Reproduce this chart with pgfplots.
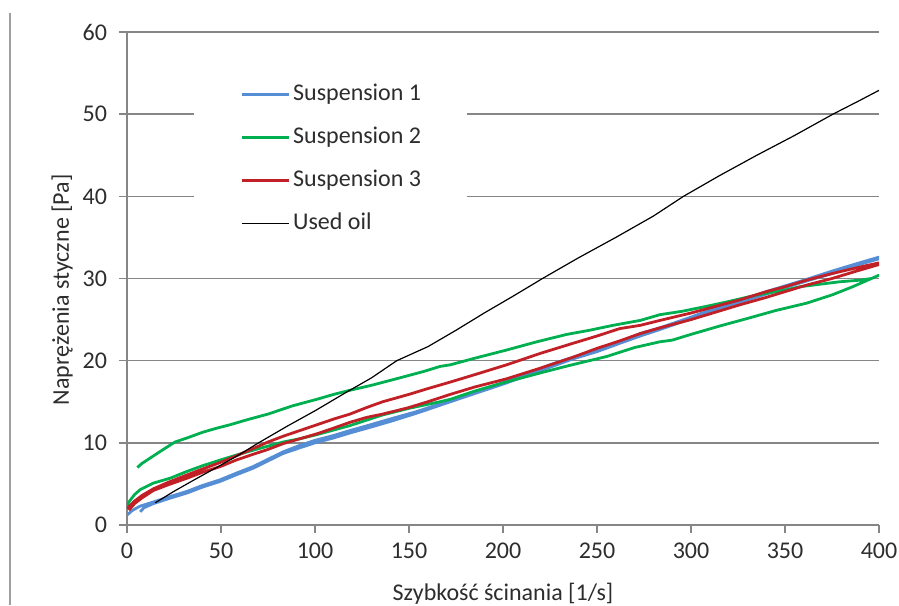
\documentclass[border=0pt]{standalone}
\usepackage{fontspec}
\setmainfont{Carlito}
\usepackage{pgfplots}
\pgfplotsset{compat=1.18}
\definecolor{sone}{RGB}{85,142,213}
\definecolor{stwo}{RGB}{0,176,80}
\definecolor{sthree}{RGB}{192,32,38}
\definecolor{gridc}{RGB}{134,134,134}
\definecolor{txt}{RGB}{45,45,45}
\begin{document}
\begin{tikzpicture}
\useasboundingbox (0pt,0pt) rectangle (449.5pt,-302.5pt);
\draw[color=gray!75, line width=1pt] (5pt,-6.5pt) -- (5pt,-302.5pt);
\begin{axis}[
  scale only axis, width=376pt, height=246.5pt,
  at={(63.5pt,-262.5pt)}, anchor=south west,
  xmin=0, xmax=400, ymin=0, ymax=60,
  xtick={0,50,...,400}, ytick={0,10,...,60},
  axis lines*=left,
  axis line style={gridc, line width=0.7pt},
  tick style={gridc, line width=0.7pt},
  tick align=outside,
  major tick length=4pt,
  ymajorgrids,
  grid style={gridc, line width=0.7pt},
  /pgf/number format/assume math mode=true,
  tick label style={font=\fontsize{12}{14}\selectfont, text=txt},
  yticklabel style={xshift=-2.5pt},
  xticklabel style={yshift=-1.5pt},
  label style={font=\fontsize{12}{14}\selectfont, text=txt},
  xlabel={Szybkość ścinania [1/s]},
  ylabel={Naprężenia styczne [Pa]},
  xlabel style={at={(axis description cs:0.5,-0.14)}, anchor=center},
  ylabel style={at={(axis description cs:-0.0864,0.477)}, anchor=center},
  legend style={at={(axis description cs:0.0891,0.939)}, anchor=north west,
    draw=none, fill=white, inner xsep=23pt, inner ysep=10pt,
    font=\fontsize{12}{14}\selectfont, text=txt,
    nodes={inner sep=0pt, text height=9pt, text depth=3pt},
    row sep=9.5pt, column sep=1.5pt},
  legend cell align=left,
  legend image code/.code={\draw[#1] (0pt,0pt) -- (23.5pt,0pt);},
]
\addplot[sone, line width=1.4pt, line join=round] coordinates {
(0,1.2)(3,1.8)(7,2.3)(14,2.8)(22,3.4)(32,4.1)(40,4.8)(49.5,5.5)(58,6.3)(67,7.1)(75,8.0)(83,8.9)(92,9.7)(100,10.3)(110,10.9)(118.6,11.5)(128,12.1)(140,12.9)(154,13.8)(166,14.7)(172,15.2)(185,16.2)(202,17.5)(215,18.6)(225,19.5)(237,20.4)(250,21.3)(262,22.3)(273,23.3)(283.5,24.0)(300,25.3)(313,26.4)(326,27.3)(340,28.4)(350,29.1)(361.5,29.9)(375,30.9)(388,31.8)(400,32.6)
(400,32.4)(388,31.6)(375,30.6)(361.5,29.7)(350,28.9)(340,28.1)(326,27.1)(313,26.2)(300,25.1)(283.5,23.8)(273,23.0)(262,22.1)(250,21.1)(237,20.2)(225,19.2)(215,18.4)(202,17.3)(185,16.0)(172,15.0)(154,13.6)(140,12.6)(128,11.8)(118.6,11.2)(110,10.6)(100,10.0)(92,9.4)(83,8.7)(75,7.8)(67,6.9)(58,6.1)(49.5,5.3)(40,4.6)(32,3.9)(22,3.2)(14,2.6)(9,2.1)(7,1.6)
};
\addlegendentry{Suspension 1}
\addplot[stwo, line width=1.4pt, line join=round] coordinates {
(0,2.3)(1,2.8)(4,3.7)(7,4.3)(14,5.1)(23,5.7)(31.7,6.5)(40,7.2)(49.5,7.9)(58,8.5)(67,9.1)(75,9.6)(83,10.1)(92,10.5)(101,11.0)(118.6,12.1)(136,13.4)(150,14.2)(166.5,15.0)(172,15.3)(185,16.3)(200,17.3)(219.7,18.5)(235,19.4)(255,20.5)(270,21.6)(283.5,22.3)(290,22.5)(300,23.2)(315,24.2)(331,25.2)(345,26.1)(361.5,27.0)(375,28.0)(386,29.0)(393,29.7)(400,30.4)
(396,30.0)(390,29.8)(379,29.6)(372,29.4)(358,29.0)(348,28.5)(335,28.0)(320,27.2)(308,26.6)(295,26.0)(283.5,25.6)(273,24.9)(258.5,24.3)(246,23.7)(234,23.2)(218,22.3)(202,21.3)(185,20.3)(172,19.5)(166.5,19.3)(158,18.7)(145,17.9)(130,17.0)(118.6,16.4)(110,15.9)(101,15.3)(88,14.5)(75,13.5)(63.7,12.8)(54.8,12.2)(48,11.8)(40.4,11.3)(32,10.6)(25.5,10.1)(18,9.0)(12,8.1)(8,7.5)(5.5,7.0)
};
\addlegendentry{Suspension 2}
\addplot[sthree, line width=1.4pt, line join=round] coordinates {
(0,2.0)(4,2.9)(8,3.6)(14,4.4)(22,5.2)(32,6.1)(40,6.8)(49.5,7.6)(58,8.4)(67,9.3)(75,10.1)(83,10.8)(92,11.5)(101,12.2)(110,12.9)(118.6,13.5)(127.5,14.3)(136,15.0)(150,15.9)(160,16.6)(172,17.4)(185,18.3)(202,19.5)(220,20.9)(237,22.1)(250,23.0)(262,23.9)(273,24.3)(283.5,24.9)(300,25.8)(313,26.6)(326,27.4)(340,28.4)(350,29.0)(361.5,29.8)(375,30.6)(388,31.3)(400,31.9)
(400,31.7)(388,30.9)(375,30.0)(361.5,29.2)(350,28.4)(340,27.7)(326,26.8)(313,25.9)(300,25.0)(283.5,24.0)(273,23.3)(262,22.4)(250,21.5)(237,20.4)(220,19.1)(202,17.8)(185,16.8)(172,15.9)(160,15.0)(150,14.3)(136,13.5)(127.5,13.1)(118.6,12.5)(110,11.8)(101,11.1)(92,10.5)(83,9.9)(75,9.2)(67,8.6)(58,7.9)(49.5,7.1)(40,6.4)(32,5.7)(22,4.9)(14,4.2)(8,3.3)(4,2.6)(1,1.8)
};
\addlegendentry{Suspension 3}
\addplot[black, line width=0.6pt, line join=round] coordinates {
(15,2.7)(25,4.1)(35,5.4)(50,7.3)(60,8.6)(70,10.0)(85,12.0)(100,13.9)(117,16.2)(130,17.9)(143.5,20.0)(160,21.7)(175,23.7)(190,25.8)(205,27.8)(221,30.0)(240,32.5)(260,35.0)(280,37.6)(296,40.0)(315,42.5)(335,45.0)(355,47.4)(375.5,50.0)(390,51.7)(400,52.9)
};
\addlegendentry{Used oil}
\end{axis}
\end{tikzpicture}
\end{document}
